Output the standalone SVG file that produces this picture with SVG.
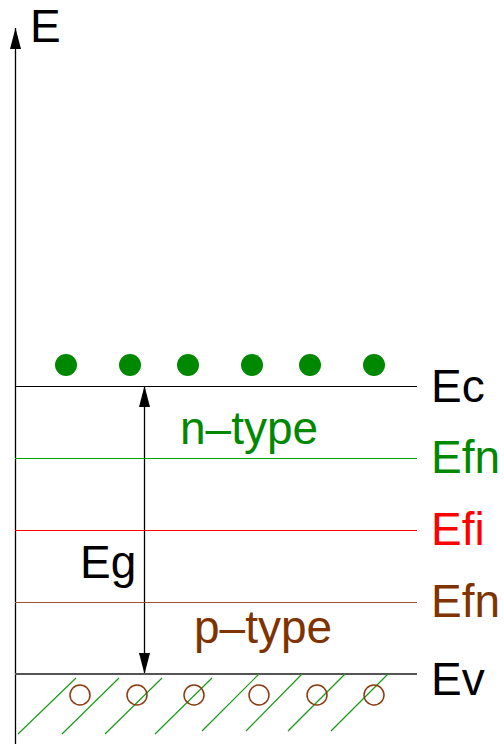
<svg xmlns="http://www.w3.org/2000/svg" width="504" height="744" viewBox="0 0 504 744">
<defs>
<marker id="ah" markerWidth="21" markerHeight="11" refX="21" refY="5.5" orient="auto" markerUnits="userSpaceOnUse" viewBox="0 0 21 11">
<path d="M0,0 L21,5.5 L0,11 Z" fill="#000"/>
</marker>
<style>
text{font-family:"Liberation Sans",Arial,sans-serif;font-size:46px}
.hatch{stroke:#1a9a1a;stroke-width:1.2}
.hole{fill:none;stroke:#8b3a0f;stroke-width:1.5}
.dot{fill:#008800}
</style>
</defs>
<rect width="504" height="744" fill="#fff"/>
<g id="connectors">
<line x1="15.5" y1="744" x2="15.5" y2="28" stroke="#000" stroke-width="1.3" marker-end="url(#ah)"/>
<line x1="144.5" y1="530" x2="144.5" y2="386" stroke="#000" stroke-width="1.3" marker-end="url(#ah)"/>
<line x1="144.5" y1="530" x2="144.5" y2="674" stroke="#000" stroke-width="1.3" marker-end="url(#ah)"/>
</g>
<g id="axis-label"><text x="30" y="42">E</text></g>
<g id="ec"><line x1="15" y1="386.5" x2="417" y2="386.5" stroke="#000" stroke-width="1"/><text x="431" y="402">Ec</text></g>
<g id="efn-n"><line x1="15" y1="458.5" x2="417" y2="458.5" stroke="#00a000" stroke-width="1"/><text x="431" y="473" fill="#008800">Efn</text></g>
<g id="efi"><line x1="15" y1="530.5" x2="417" y2="530.5" stroke="#ff0000" stroke-width="1"/><text x="431" y="545" fill="#ff0000">Efi</text></g>
<g id="efn-p"><line x1="15" y1="602.5" x2="417" y2="602.5" stroke="#a0522d" stroke-width="1"/><text x="431" y="617" fill="#7f3300">Efn</text></g>
<g id="ev"><line x1="15" y1="674" x2="417" y2="674" stroke="#555" stroke-width="2"/><text x="431" y="695">Ev</text></g>
<g id="ntype"><text x="180" y="444" fill="#008800">n–type</text></g>
<g id="ptype"><text x="194" y="643" fill="#7f3300">p–type</text></g>
<g id="eg"><text x="80" y="578">Eg</text></g>
<g id="electrons">
<circle class="dot" cx="66" cy="365" r="11"/>
<circle class="dot" cx="130" cy="365" r="11"/>
<circle class="dot" cx="188" cy="365" r="11"/>
<circle class="dot" cx="252" cy="365" r="11"/>
<circle class="dot" cx="310" cy="365" r="11"/>
<circle class="dot" cx="374" cy="365" r="11"/>
</g>
<g id="hatching">
<line class="hatch" x1="18" y1="734" x2="76" y2="678"/>
<line class="hatch" x1="62" y1="734" x2="119" y2="678"/>
<line class="hatch" x1="105" y1="734" x2="162" y2="678"/>
<line class="hatch" x1="155" y1="734" x2="212" y2="678"/>
<line class="hatch" x1="202" y1="731" x2="259" y2="674"/>
<line class="hatch" x1="246" y1="731" x2="302" y2="674"/>
<line class="hatch" x1="288" y1="731" x2="345" y2="674"/>
<line class="hatch" x1="331" y1="731" x2="388" y2="674"/>
</g>
<g id="holes">
<circle class="hole" cx="80" cy="695" r="10"/>
<circle class="hole" cx="137" cy="695" r="10"/>
<circle class="hole" cx="194" cy="695" r="10"/>
<circle class="hole" cx="259" cy="695" r="10"/>
<circle class="hole" cx="317" cy="695" r="10"/>
<circle class="hole" cx="374" cy="695" r="10"/>
</g>
</svg>
